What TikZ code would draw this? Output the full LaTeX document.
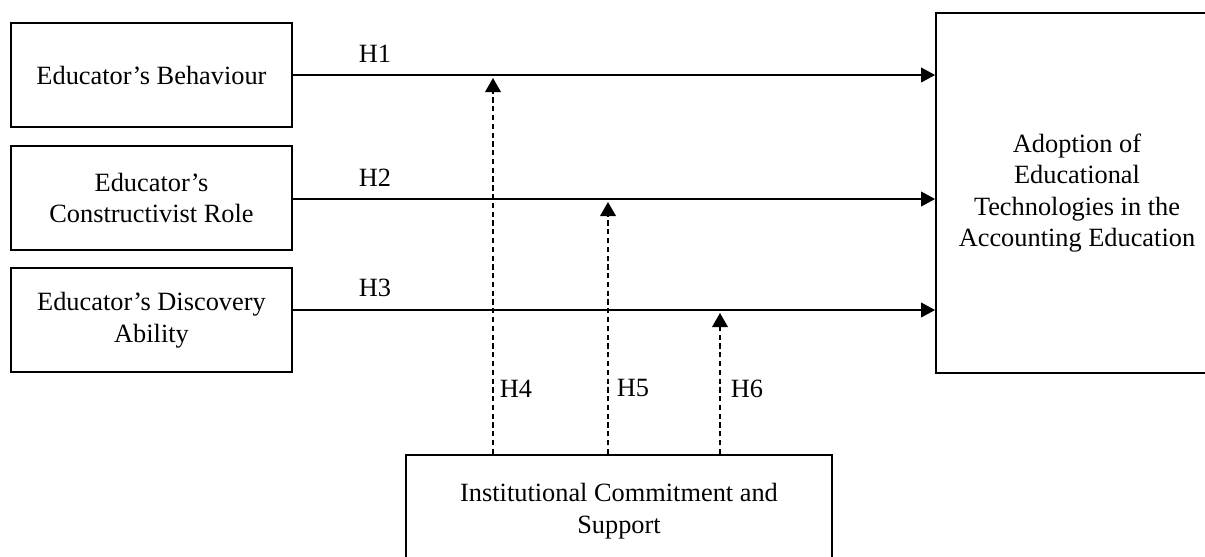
\documentclass[tikz,border=0pt]{standalone}
\usepackage{fontspec}
\setmainfont{Liberation Serif}
\usetikzlibrary{arrows.meta}
\begin{document}
\begin{tikzpicture}[x=0.02cm,y=-0.02cm,
  box/.style={draw, line width=1.1pt, align=center, inner sep=0pt, font=\fontsize{15}{18}\selectfont},
  flow/.style={line width=0.6pt, -{Triangle[length=8pt,width=8.5pt]}},
  moder/.style={line width=0.6pt, dash pattern=on 3pt off 2pt, -{Triangle[length=8pt,width=9pt]}},
  hlab/.style={font=\fontsize{15}{18}\selectfont, inner sep=0pt}]
\useasboundingbox (0,0) rectangle (1205,556);
\clip (0,0) rectangle (1205,556);
% boxes
\node[box, minimum width=5.62cm, minimum height=2.08cm] (b1) at (151.5,75) {Educator’s Behaviour};
\node[box, minimum width=5.62cm, minimum height=2.08cm] (b2) at (151.5,198) {Educator’s\\Constructivist Role};
\node[box, minimum width=5.62cm, minimum height=2.08cm] (b3) at (151.5,320) {Educator’s Discovery\\Ability};
\node[box, minimum width=5.64cm, minimum height=7.2cm] (tg) at (1077,193) {Adoption of\\Educational\\Technologies in the\\Accounting Education};
\node[box, minimum width=8.52cm, minimum height=2.24cm] (ic) at (619,511) {Institutional Commitment and\\Support};
% start points of the paths
\coordinate (s1) at (292,75);
\coordinate (s2) at (292,199);
\coordinate (s3) at (292,310);
% direct paths
\draw[flow] (s1) -- (s1 -| tg.west);
\draw[flow] (s2) -- (s2 -| tg.west);
\draw[flow] (s3) -- (s3 -| tg.west);
\node[hlab] (h1) at (375,54) {H1};
\node[hlab] (h2) at (375,178) {H2};
\node[hlab] (h3) at (375,288) {H3};
% moderating paths
\coordinate (t4) at (493,78);
\coordinate (t5) at (608,202);
\coordinate (t6) at (720,313);
\draw[moder] (ic.north -| t4) -- (t4);
\draw[moder] (ic.north -| t5) -- (t5);
\draw[moder] (ic.north -| t6) -- (t6);
\node[hlab] (h4) at (516,389) {H4};
\node[hlab] (h5) at (633,388) {H5};
\node[hlab] (h6) at (747,389) {H6};
\end{tikzpicture}
\end{document}
